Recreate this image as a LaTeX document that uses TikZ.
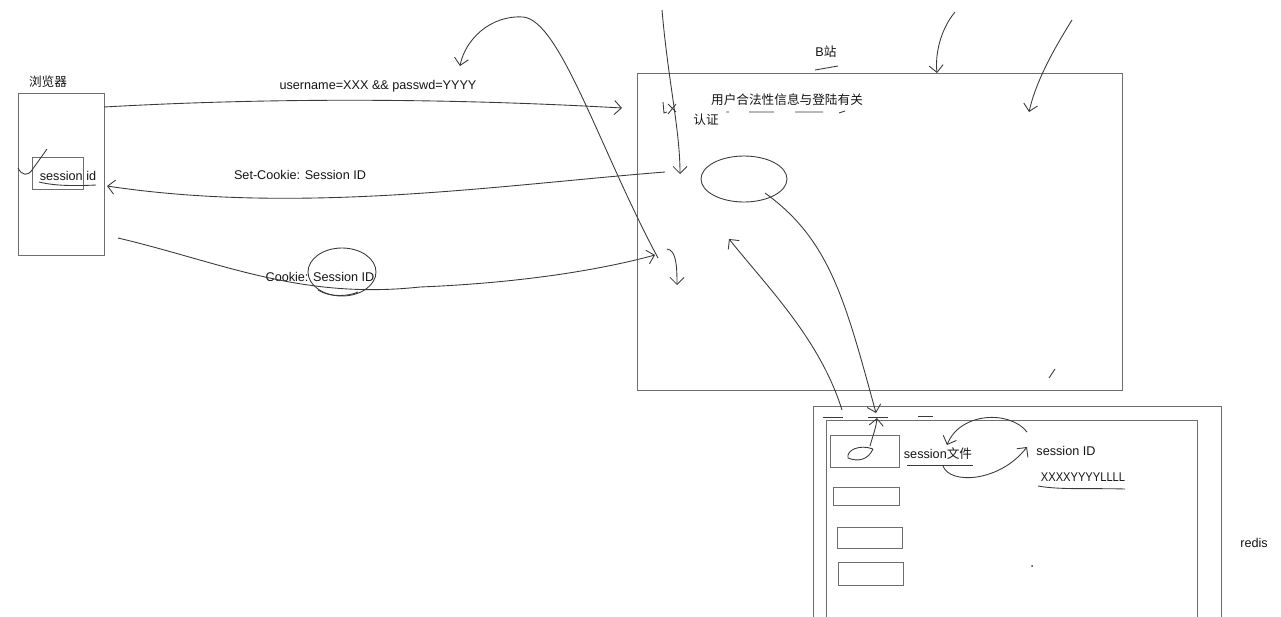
\documentclass[tikz,border=0pt]{standalone}
\usepackage{fontspec}
\setmainfont{Liberation Sans}
\newfontfamily\cjk{Noto Sans CJK SC}
\usepackage{graphicx}
\usepackage{tikz}
\usetikzlibrary{arrows.meta,positioning,shapes.geometric}
\definecolor{boxgray}{HTML}{6E6E6E}
\definecolor{inkgray}{HTML}{3A3A3A}
\definecolor{txtgray}{HTML}{151515}

\begin{document}
\begin{tikzpicture}[x=0.02cm, y=-0.02cm,
        font=\fontsize{7.2}{8.6}\selectfont,
        box/.style={rectangle, draw=boxgray, line width=0.55pt, anchor=north west, inner sep=0pt},
        label/.style={text=txtgray, inner sep=0pt},
        ink/.style={draw=inkgray, line width=0.5pt},
        arrow/.style={ink, -{Straight Barb[length=4pt, width=8pt]}}]

        \useasboundingbox (0,0) rectangle (1281,616);

        % Browser
        \node[box, minimum width=1.72cm, minimum height=3.24cm] (browser) at (18,93) {};
        \node[label] (browsername) at (48,82) {\cjk 浏览器};
        \node[box, minimum width=1.02cm, minimum height=0.64cm] (sessbox) at (32,157) {};
        \node[label] (sessid) at (68,176) {session id};
        \draw[ink] (39,182) .. controls (55,186) and (75,186) .. (96,185);
        \draw[ink] (18,168) .. controls (22,176) and (28,176) .. (32,170) -- (47,149);

        % B site
        \node[box, minimum width=9.70cm, minimum height=6.34cm] (bsite) at (637,73) {};
        \node[label] (bname) at (826,52) {B{\cjk 站}};
        \draw[ink] (815,70) -- (838,66);
        \node[label] (legal) at (787,100) {\cjk 用户合法性信息与登陆有关};
        \node[label] (auth) at (706,120) {\cjk 认证};
        \draw[ink] (726,112) -- (729,112) (749,112) -- (774,112) (795,112) -- (823,112) (839,113) -- (845,111);
        \draw[ink] (663,102) -- (664,113) -- (667,112) (668,104) -- (676,112) (676,104) -- (668,114);
        \node[ellipse, ink, minimum width=1.72cm, minimum height=0.92cm] (memo) at (744,179) {};
        \draw[ink] (1049,378) -- (1055,369);

        % Redis
        \node[box, minimum width=8.16cm, minimum height=4.28cm] (redis) at (813,406) {};
        \node[box, minimum width=7.42cm, minimum height=4.00cm] (redisin) at (826,420) {};
        \node[box, minimum width=1.38cm, minimum height=0.64cm] (slot1) at (830,435) {};
        \node[box, minimum width=1.32cm, minimum height=0.36cm] (slot2) at (833,487) {};
        \node[box, minimum width=1.30cm, minimum height=0.42cm] (slot3) at (837,527) {};
        \node[box, minimum width=1.30cm, minimum height=0.46cm] (slot4) at (838,562) {};
        \draw[ink] (823,417) -- (843,417) (868,417) -- (888,417) (918,416) -- (933,416);
        \draw[ink] (873,449) .. controls (860,444) and (846,450) .. (848,458) .. controls (858,462) and (868,460) .. (873,449);
        \node[label] (sessfile) at (938,454) {session{\cjk 文件}};
        \draw[ink] (907,465) -- (973,465);
        \node[label] (sessidr) at (1066,451) {session ID};
        \node[label] (sessval) at (1083,477) {\scalebox{0.88}[1]{XXXXYYYYLLLL}};
        \draw[ink] (1038,486) .. controls (1060,490) and (1090,488) .. (1125,489);
        \node[label] (redisname) at (1254,543) {redis};
        \fill[inkgray] (1032,566) circle [radius=1];

        % Message labels
        \node[label] (loginmsg) at (378,86) {username=XXX \&\& passwd=YYYY};
        \node[label] (setmsg) at (300,175) {Set-Cookie: Session ID};
        \node[label] (cookiemsg) at (320,277) {Cookie: Session ID};
        \draw[ink] (342,272) ellipse [x radius=34, y radius=24];
        \draw[ink] (318,290) .. controls (330,298) and (350,296) .. (358,292);

        % End points
        \coordinate (login-a) at (104,107);
        \coordinate (login-b) at (622,108);
        \coordinate (set-a) at (665,172);
        \coordinate (set-b) at (107,186);
        \coordinate (ck-a) at (118,238);
        \coordinate (ck-b) at (655,255);
        \coordinate (loop-a) at (658,258);
        \coordinate (loop-b) at (460,66);
        \coordinate (down-a) at (662,10);
        \coordinate (down-b) at (680,174);
        \coordinate (tick-a) at (667,249);
        \coordinate (tick-b) at (677,285);
        \coordinate (top1-a) at (955,12);
        \coordinate (top1-b) at (937,73);
        \coordinate (top2-a) at (1072,20);
        \coordinate (top2-b) at (1029,112);
        \coordinate (store-a) at (765,193);
        \coordinate (store-b) at (876,413);
        \coordinate (fetch-a) at (842,410);
        \coordinate (fetch-b) at (729,239);
        \coordinate (blob-a) at (870,446);
        \coordinate (blob-b) at (877,418);
        \coordinate (sf-a) at (943,466);
        \coordinate (sf-b) at (1027,447);
        \coordinate (sid-a) at (1027,432);
        \coordinate (sid-b) at (947,445);

        % Arrows
        \draw[arrow] (login-a) .. controls (300,96) and (480,100) .. (login-b);
        \draw[arrow] (set-a) .. controls (500,185) and (300,215) .. (set-b);
        \draw[arrow] (ck-a) .. controls (220,262) and (300,300) .. (420,287) .. controls (520,283) and (600,270) .. (ck-b);
        \draw[arrow] (loop-a) .. controls (600,150) and (560,20) .. (523,17) .. controls (490,15) and (465,40) .. (loop-b);
        \draw[arrow] (down-a) .. controls (668,80) and (680,130) .. (down-b);
        \draw[arrow] (tick-a) .. controls (676,250) and (677,265) .. (tick-b);
        \draw[arrow] (top1-a) .. controls (940,30) and (935,55) .. (top1-b);
        \draw[arrow] (top2-a) .. controls (1050,55) and (1035,85) .. (top2-b);
        \draw[arrow] (store-a) .. controls (830,240) and (845,300) .. (store-b);
        \draw[arrow] (fetch-a) .. controls (820,340) and (770,290) .. (fetch-b);
        \draw[arrow] (blob-a) .. controls (873,435) and (876,428) .. (blob-b);
        \draw[arrow] (sf-a) .. controls (950,485) and (1000,482) .. (sf-b);
        \draw[arrow] (sid-a) .. controls (1010,410) and (960,412) .. (sid-b);

    \end{tikzpicture}
\end{document}
